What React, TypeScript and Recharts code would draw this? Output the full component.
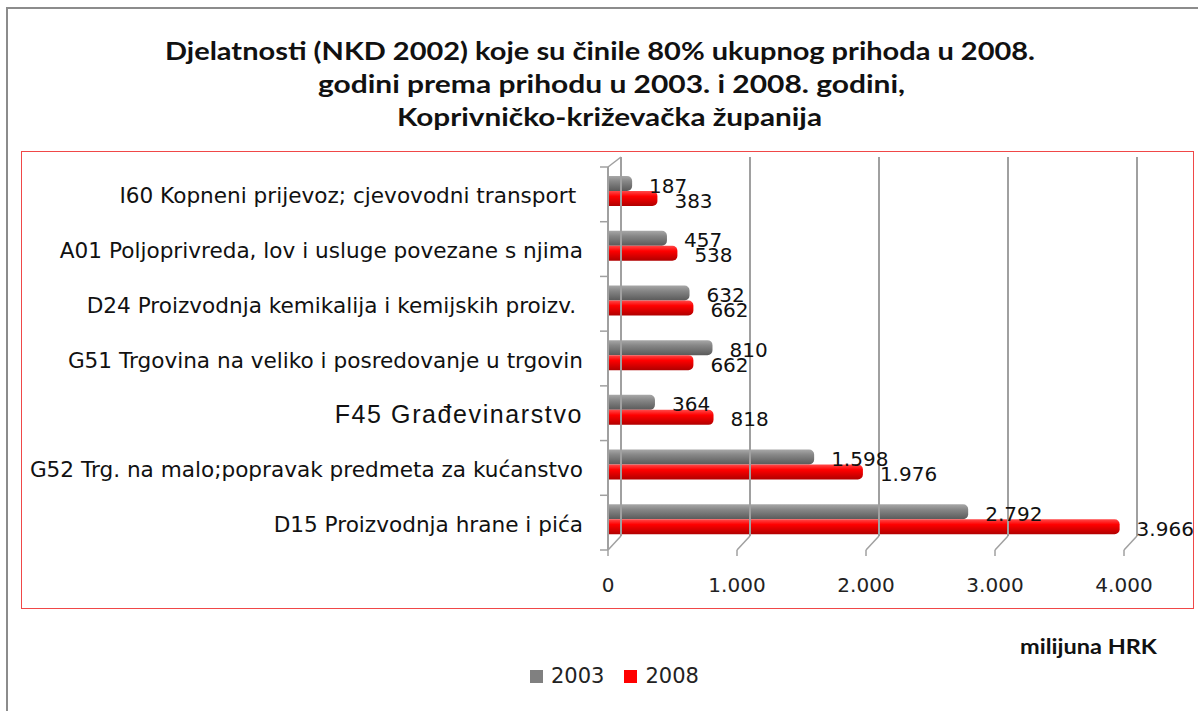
import React from "react";
import { BarChart, Bar, XAxis, YAxis, LabelList, Rectangle } from "recharts";

const categories = [
  "I60 Kopneni prijevoz; cjevovodni transport ",
  "A01 Poljoprivreda, lov i usluge povezane s njima",
  "D24 Proizvodnja kemikalija i kemijskih proizv. ",
  "G51 Trgovina na veliko i posredovanje u trgovin",
  "F45 Građevinarstvo",
  "G52 Trg. na malo;popravak predmeta za kućanstvo",
  "D15 Proizvodnja hrane i pića",
];
const values2003 = [187, 457, 632, 810, 364, 1598, 2792];
const values2008 = [383, 538, 662, 662, 818, 1976, 3966];
const xTicks = [0, 1000, 2000, 3000, 4000];
const seriesNames = ["2003", "2008"];
const seriesColors = ["#808080", "#ff0000"];

const titleLines = [
  "Djelatnosti (NKD 2002) koje su činile 80% ukupnog prihoda u 2008.",
  "godini prema prihodu u 2003. i 2008. godini,",
  "Koprivničko-križevačka županija",
];

const data = categories.map((name, i) => ({
  name,
  y2003: values2003[i],
  y2008: values2008[i],
}));

// plot area edges and the fake 3D depth
const TOP = 167;
const BOTTOM = 550;
const DX = 13;
const DY = 14;
const LIFT = 3; // bars sit a bit above band centre (3D look)
const GRID = "#a0a0a0";

const fmt = (v: number) => String(v).replace(/\B(?=(\d{3})+(?!\d))/g, ".");

function XTick(props: any) {
  const { x, payload } = props;
  return (
    <g>
      <line x1={x + DX} y1={TOP - 10} x2={x + DX} y2={BOTTOM - DY} stroke={GRID} strokeWidth={2} />
      <line x1={x} y1={BOTTOM} x2={x + DX} y2={BOTTOM - DY} stroke={GRID} strokeWidth={1.5} />
      <line x1={x} y1={BOTTOM} x2={x} y2={BOTTOM + 6} stroke={GRID} strokeWidth={1.5} />
      {payload.value === 0 && (
        <line x1={x} y1={TOP} x2={x + DX} y2={TOP - 10} stroke={GRID} strokeWidth={1.5} />
      )}
      <text
        x={x}
        y={BOTTOM + 42}
        textAnchor="middle"
        fontFamily="DejaVu Sans"
        fontSize={20}
        fill="#222"
      >
        {fmt(payload.value)}
      </text>
    </g>
  );
}

function YTick(props: any) {
  const { x, y, payload, index } = props;
  const half = payload.offset || 0;
  const isF45 = payload.value.startsWith("F45");
  const axisX = x + 8;
  return (
    <g>
      <line x1={axisX - 8} y1={y - half} x2={axisX} y2={y - half} stroke={GRID} strokeWidth={1.5} />
      {index === categories.length - 1 && (
        <line x1={axisX - 8} y1={y + half} x2={axisX} y2={y + half} stroke={GRID} strokeWidth={1.5} />
      )}
      <text
        x={x - 17}
        y={y}
        dy={isF45 ? 10 : 9}
        textAnchor="end"
        fontFamily={isF45 ? "Liberation Sans" : "DejaVu Sans"}
        fontSize={isF45 ? 25 : 21.6}
        letterSpacing={isF45 ? 1.6 : 0}
        fill="#111"
        style={{ whiteSpace: "pre" }}
      >
        {payload.value}
      </text>
    </g>
  );
}

function LiftedBar(props: any) {
  return <Rectangle {...props} y={props.y - LIFT} />;
}

function ValueLabel(props: any) {
  const { x, y, width, height, value } = props;
  return (
    <text
      x={x + width + 17}
      y={y - LIFT + height / 2 + 9}
      fontFamily="DejaVu Sans"
      fontSize={20}
      fill="#111"
    >
      {fmt(value)}
    </text>
  );
}

export default function App() {
  return (
    <div
      style={{
        position: "absolute",
        left: 0,
        top: 0,
        width: 1198,
        height: 711,
        background: "#fff",
        overflow: "hidden",
      }}
    >
      <div
        style={{
          position: "absolute",
          left: 6,
          top: 7,
          width: 1300,
          height: 800,
          border: "2px solid #8c8c8c",
        }}
      />
      <div
        style={{
          position: "absolute",
          left: 21,
          top: 151,
          width: 1171,
          height: 456,
          border: "1.5px solid #f04848",
        }}
      />
      <svg width={1198} height={711} style={{ position: "absolute", left: 0, top: 0 }}>
        <text x={165} y={60} textLength={870} lengthAdjust="spacingAndGlyphs" fontFamily="Lato" fontWeight={700} fontSize={24} fill="#111">
          {titleLines[0]}
        </text>
        <text x={318} y={93} textLength={587} lengthAdjust="spacingAndGlyphs" fontFamily="Lato" fontWeight={700} fontSize={24} fill="#111">
          {titleLines[1]}
        </text>
        <text x={397} y={126} textLength={425} lengthAdjust="spacingAndGlyphs" fontFamily="Lato" fontWeight={700} fontSize={24} fill="#111">
          {titleLines[2]}
        </text>
        <text x={1020} y={654} textLength={137} lengthAdjust="spacingAndGlyphs" fontFamily="Lato" fontWeight={700} fontSize={20} fill="#111">
          milijuna HRK
        </text>
      </svg>
      <div style={{ position: "absolute", left: 0, top: 0 }}>
        <BarChart
          width={1198}
          height={711}
          data={data}
          layout="vertical"
          margin={{ top: TOP, right: 74, bottom: 711 - BOTTOM - 40, left: 0 }}
          barGap={0}
        >
          <defs>
            <linearGradient id="gGray" x1="0" y1="0" x2="0" y2="1">
              <stop offset="0%" stopColor="#a8a8a8" />
              <stop offset="35%" stopColor="#878787" />
              <stop offset="100%" stopColor="#5a5a5a" />
            </linearGradient>
            <linearGradient id="gRed" x1="0" y1="0" x2="0" y2="1">
              <stop offset="0%" stopColor="#ff4a4a" />
              <stop offset="35%" stopColor="#ff0000" />
              <stop offset="100%" stopColor="#b00000" />
            </linearGradient>
          </defs>
          <XAxis
            type="number"
            domain={[0, 4000]}
            ticks={xTicks}
            axisLine={false}
            tickLine={false}
            tick={<XTick />}
            height={40}
            interval={0}
          />
          <YAxis
            type="category"
            dataKey="name"
            width={608}
            axisLine={{ stroke: GRID, strokeWidth: 2 }}
            tickLine={false}
            tick={<YTick />}
            interval={0}
          />
          <Bar dataKey="y2003" name={seriesNames[0]} fill="url(#gGray)" barSize={15} radius={[0, 5, 5, 0]} shape={<LiftedBar />} isAnimationActive={false}>
            <LabelList dataKey="y2003" content={<ValueLabel />} />
          </Bar>
          <Bar dataKey="y2008" name={seriesNames[1]} fill="url(#gRed)" barSize={15} radius={[0, 5, 5, 0]} shape={<LiftedBar />} isAnimationActive={false}>
            <LabelList dataKey="y2008" content={<ValueLabel />} />
          </Bar>
        </BarChart>
      </div>
      <div
        style={{
          position: "absolute",
          left: 530,
          top: 664,
          display: "flex",
          alignItems: "center",
          fontFamily: "DejaVu Sans",
          fontSize: 21,
          color: "#222",
        }}
      >
        {seriesNames.map((n, i) => (
          <div key={n} style={{ display: "flex", alignItems: "center", marginRight: 20 }}>
            <span style={{ width: 13, height: 13, background: seriesColors[i], marginRight: 8 }} />
            <span>{n}</span>
          </div>
        ))}
      </div>
    </div>
  );
}
